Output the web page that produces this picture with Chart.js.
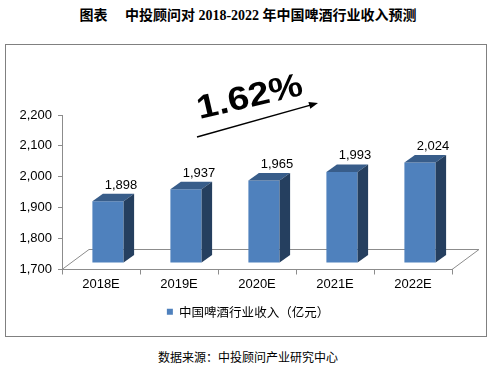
<!DOCTYPE html>
<html lang="zh">
<head>
<meta charset="UTF-8">
<title>中国啤酒行业收入预测</title>
<style>
  body { margin: 0; background: #fff; width: 496px; height: 370px; position: relative; overflow: hidden; }
  #title {
    position: absolute; left: 0; top: 4px; width: 496px; text-align: center;
    font: bold 14px "Liberation Serif", "Noto Sans CJK SC", serif; white-space: pre; color: #000;
  }
  #frame {
    position: absolute; left: 5px; top: 44px; width: 482px; height: 293px;
    border: 1.5px solid #808080; box-sizing: border-box;
  }
  #source {
    position: absolute; left: 0; top: 348px; width: 496px; text-align: center;
    font: 12px "Noto Sans CJK SC", sans-serif; color: #000;
  }
  canvas { position: absolute; left: 0; top: 0; }
</style>
</head>
<body>
<div id="title">图表　 中投顾问对 2018-2022 年中国啤酒行业收入预测</div>
<div id="frame"></div>
<div id="source">数据来源：中投顾问产业研究中心</div>
<canvas id="beerChart" width="496" height="370"></canvas>

<script src="https://cdn.jsdelivr.net/npm/chart.js"></script>
<script>
  // data
  const years = ['2018E', '2019E', '2020E', '2021E', '2022E'];
  const revenue = [1898, 1937, 1965, 1993, 2024];
  const seriesName = '中国啤酒行业收入（亿元）';
  const growthText = '1.62%';

  const SHIFT = { x: 7, y: -7 };      // bars sit a little inside the floor
  const DEPTH = { x: 10.5, y: -7.5 }; // 3d bar depth
  const FLOOR = { x: 27, y: -20 };    // floor depth

  const fmt = v => Number(v).toLocaleString('en-US');

  const bar3d = {
    id: 'bar3d',
    afterLayout(chart) {
      // centre the legend on the whole page rather than the padded box
      const lg = chart.legend;
      if (lg) { lg.left = 0; lg.right = chart.width; lg.width = chart.width; }
    },
    beforeDatasetsDraw(chart) {
      const { ctx, chartArea: a } = chart;
      // floor
      ctx.save();
      ctx.strokeStyle = '#8c8c8c';
      ctx.lineWidth = 1;
      ctx.beginPath();
      ctx.moveTo(a.left, a.bottom);
      ctx.lineTo(a.left + FLOOR.x, a.bottom + FLOOR.y);
      ctx.lineTo(a.right + FLOOR.x, a.bottom + FLOOR.y);
      ctx.lineTo(a.right, a.bottom);
      ctx.stroke();
      ctx.restore();
      ctx.save();
      ctx.translate(SHIFT.x, SHIFT.y);
    },
    afterDatasetsDraw(chart) {
      const { ctx, chartArea: a } = chart;
      const meta = chart.getDatasetMeta(0);
      meta.data.forEach((bar, i) => {
        const l = bar.x - bar.width / 2, r = bar.x + bar.width / 2;
        const t = bar.y, b = Math.min(bar.base, a.bottom);
        // top face
        ctx.fillStyle = '#385d8a';
        ctx.beginPath();
        ctx.moveTo(l, t);
        ctx.lineTo(l + DEPTH.x, t + DEPTH.y);
        ctx.lineTo(r + DEPTH.x, t + DEPTH.y);
        ctx.lineTo(r, t);
        ctx.closePath();
        ctx.fill();
        // side face
        ctx.fillStyle = '#253f5f';
        ctx.beginPath();
        ctx.moveTo(r, t);
        ctx.lineTo(r + DEPTH.x, t + DEPTH.y);
        ctx.lineTo(r + DEPTH.x, b + DEPTH.y);
        ctx.lineTo(r, b);
        ctx.closePath();
        ctx.fill();
        // value label
        ctx.fillStyle = '#000';
        ctx.font = '13px "Liberation Sans", Arial, sans-serif';
        ctx.textAlign = 'center';
        ctx.textBaseline = 'alphabetic';
        ctx.fillText(fmt(revenue[i]), bar.x + 13, t + DEPTH.y - 5);
      });
      ctx.restore();

      // growth annotation
      ctx.save();
      ctx.strokeStyle = '#000';
      ctx.fillStyle = '#000';
      ctx.lineWidth = 1.5;
      const x0 = 197, y0 = 137, x1 = 318, y1 = 103;
      const ang = Math.atan2(y1 - y0, x1 - x0);
      ctx.beginPath();
      ctx.moveTo(x0, y0);
      ctx.lineTo(x1 - 6 * Math.cos(ang), y1 - 6 * Math.sin(ang));
      ctx.stroke();
      ctx.translate(x1, y1);
      ctx.rotate(ang);
      ctx.beginPath();
      ctx.moveTo(0, 0);
      ctx.lineTo(-9, -3.5);
      ctx.lineTo(-9, 3.5);
      ctx.closePath();
      ctx.fill();
      ctx.restore();

      ctx.save();
      ctx.translate(250, 98);
      ctx.rotate(-13 * Math.PI / 180);
      ctx.scale(1.15, 1);
      ctx.font = 'bold 33px "Liberation Sans", Arial, sans-serif';
      ctx.textAlign = 'center';
      ctx.textBaseline = 'middle';
      ctx.fillStyle = '#000';
      ctx.fillText(growthText, 0, 0);
      ctx.restore();
    }
  };

  new Chart(document.getElementById('beerChart'), {
    type: 'bar',
    data: {
      labels: years,
      datasets: [{
        label: seriesName,
        data: revenue,
        backgroundColor: '#4f81bd',
        borderWidth: 0,
        barPercentage: 0.4,
        categoryPercentage: 1.0
      }]
    },
    options: {
      responsive: false,
      animation: false,
      layout: { padding: { top: 115, right: 44, bottom: 42, left: 0 } },
      scales: {
        x: {
          afterFit(scale) { scale.height = 26; },
          border: { color: '#8c8c8c' },
          grid: { drawOnChartArea: false, color: '#8c8c8c', tickLength: 5, offset: true },
          ticks: { color: '#000', padding: 2, font: { family: '"Liberation Sans", Arial, sans-serif', size: 13 } }
        },
        y: {
          min: 1700,
          max: 2200,
          afterFit(scale) { scale.width = 62; },
          border: { color: '#8c8c8c' },
          grid: { drawOnChartArea: false, color: '#8c8c8c', tickLength: 4 },
          ticks: {
            stepSize: 100,
            padding: 6,
            color: '#000',
            font: { family: '"Liberation Sans", Arial, sans-serif', size: 13 },
            callback: v => fmt(v)
          }
        }
      },
      plugins: {
        legend: {
          position: 'bottom',
          labels: {
            boxWidth: 6,
            boxHeight: 6,
            color: '#000',
            padding: 10,
            font: { family: '"Noto Sans CJK SC", sans-serif', size: 12.5 }
          }
        },
        tooltip: { enabled: false }
      }
    },
    plugins: [bar3d]
  });
</script>
</body>
</html>
